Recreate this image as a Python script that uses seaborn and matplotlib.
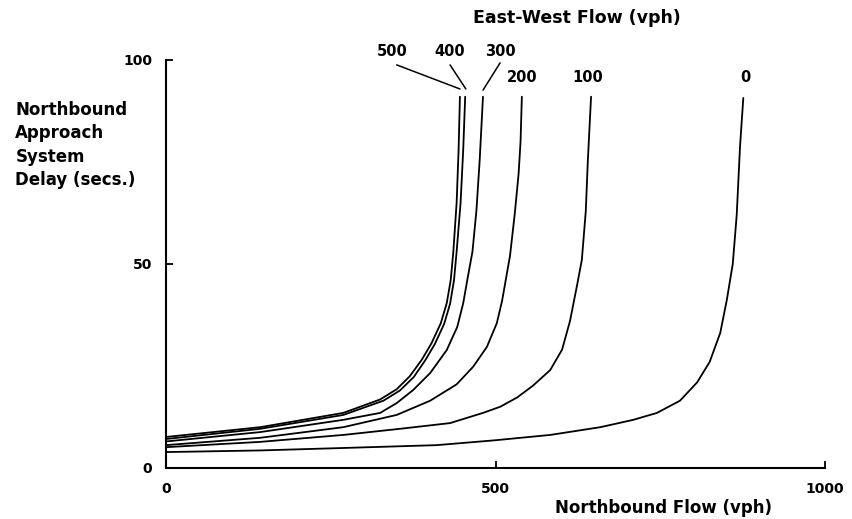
import pandas as pd
import matplotlib.pyplot as plt
import seaborn as sns

# values (northbound flow vph, delay secs)
flow_0 = [0, 143, 269, 411, 500, 583, 659, 709, 745, 780, 806, 825, 841, 851, 860, 866, 871, 876]
delay_0 = [3.9, 4.3, 4.9, 5.6, 6.8, 8.1, 10.0, 11.8, 13.5, 16.5, 21.0, 26.0, 33.1, 41.2, 50.0, 62.0, 78.7, 90.7]

flow_100 = [0, 143, 269, 355, 431, 481, 507, 533, 557, 583, 601, 613, 624, 631, 637, 640, 645]
delay_100 = [5.1, 6.4, 8.1, 9.6, 11.0, 13.5, 15.0, 17.3, 20.2, 24.0, 29.0, 36.0, 45.0, 51.0, 63.0, 75.0, 91.0]

flow_200 = [0, 143, 269, 350, 401, 441, 466, 487, 502, 510, 516, 522, 529, 535, 538, 540]
delay_200 = [5.6, 7.4, 10.0, 13.0, 16.5, 20.5, 24.8, 29.7, 35.5, 41.0, 46.5, 52.0, 62.0, 72.0, 80.0, 91.0]

flow_300 = [0, 143, 269, 325, 350, 375, 401, 426, 442, 451, 458, 465, 471, 476, 481]
delay_300 = [6.5, 8.8, 11.8, 13.5, 15.9, 19.1, 23.3, 28.9, 34.6, 40.4, 46.8, 53.0, 63.0, 75.5, 91.0]

flow_400 = [0, 143, 269, 330, 355, 376, 393, 408, 422, 431, 437, 441, 447, 451, 454]
delay_400 = [7.1, 9.6, 13.0, 16.5, 19.0, 22.3, 26.3, 30.4, 35.3, 40.2, 46.0, 53.0, 65.0, 78.0, 91.0]

flow_500 = [0, 143, 269, 325, 350, 370, 388, 403, 417, 426, 432, 436, 441, 444, 446]
delay_500 = [7.6, 10.0, 13.5, 16.8, 19.3, 22.5, 26.5, 30.6, 35.5, 40.4, 46.0, 53.0, 65.0, 78.0, 91.0]

ew_flows = ["0", "100", "200", "300", "400", "500"]
curves = [(flow_0, delay_0), (flow_100, delay_100), (flow_200, delay_200),
          (flow_300, delay_300), (flow_400, delay_400), (flow_500, delay_500)]

rows = []
for name, (fx, dy) in zip(ew_flows, curves):
    for a, b in zip(fx, dy):
        rows.append({"Flow": a, "Delay": b, "EW": name})
df = pd.DataFrame(rows)

sns.set_style("ticks")
plt.rcParams['font.family'] = ['DejaVu Sans']
plt.rcParams['text.color'] = 'black'

fig = plt.figure(figsize=(8.53, 5.19), dpi=100)
ax = fig.add_axes([0.1946, 0.0983, 0.7726, 0.7861])

sns.lineplot(data=df, x="Flow", y="Delay", hue="EW", units="EW", estimator=None,
             palette=["black"] * 6, linewidth=1.3, legend=False, ax=ax)

ax.set_xlim(0, 1000)
ax.set_ylim(0, 100)
ax.set_xticks([0, 500, 1000])
ax.set_yticks([0, 50, 100])
ax.tick_params(direction="in", length=5, width=1.3, labelsize=10, pad=10,
               colors="black", labelcolor="black")
for lab in ax.get_xticklabels() + ax.get_yticklabels():
    lab.set_fontweight("bold")
sns.despine(ax=ax)
for s in ["left", "bottom"]:
    ax.spines[s].set_linewidth(1.5)
    ax.spines[s].set_color("black")
ax.set_xlabel("")
ax.set_ylabel("")

# curve labels
label_pos = {"500": (343, 102), "400": (431, 102), "300": (507, 102),
             "200": (540, 95.6), "100": (640, 95.6), "0": (879, 95.6)}
for name, (lx, ly) in label_pos.items():
    ax.text(lx, ly, name, ha="center", va="center", fontsize=10.5,
            fontweight="bold", color="black", clip_on=False)

# leader lines for the crowded labels
leaders = [((350, 98.8), (446, 92.9)), ((431, 98.8), (455, 92.9)),
           ((507, 99.3), (481, 92.6))]
for (x1, y1), (x2, y2) in leaders:
    ax.plot([x1, x2], [y1, y2], color="black", lw=1.1, clip_on=False)

fig.text(0.676, 0.965, "East-West Flow (vph)", ha="center", va="center",
         fontsize=12.5, fontweight="bold", color="black")
fig.text(0.778, 0.021, "Northbound Flow (vph)", ha="center", va="center",
         fontsize=12, fontweight="bold", color="black")
fig.text(0.018, 0.806, "Northbound\nApproach\nSystem\nDelay (secs.)", ha="left",
         va="top", fontsize=12, fontweight="bold", linespacing=1.4, color="black")

fig.savefig("out.png", dpi=100)
